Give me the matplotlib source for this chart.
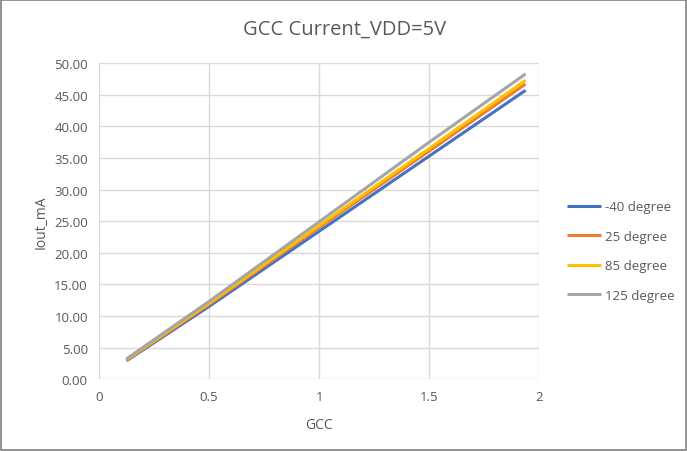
import matplotlib.pyplot as plt
from matplotlib.patches import Rectangle

plt.rcParams['font.family'] = ['Open Sans', 'DejaVu Sans']

gcc = [0.125, 0.5, 1.0, 1.5, 1.9375]
i_m40 = [2.9, 11.5, 23.4, 35.3, 45.7]
i_25 = [3.0, 11.8, 24.0, 36.1, 46.7]
i_85 = [3.1, 12.0, 24.3, 36.5, 47.3]
i_125 = [3.2, 12.3, 24.9, 37.5, 48.3]

series = [
    ("-40 degree", i_m40, "#4472C4"),
    ("25 degree", i_25, "#ED7D31"),
    ("85 degree", i_85, "#FFC000"),
    ("125 degree", i_125, "#A5A5A5"),
]

txt = "#595959"
fig = plt.figure(figsize=(6.87, 4.52), dpi=100)
ax = fig.add_axes([0.144, 0.159, 0.641, 0.699])

for name, vals, col in series:
    ax.plot(gcc, vals, color=col, lw=2.2, label=name, solid_capstyle="butt")

ax.set_xlim(0, 2)
ax.set_ylim(0, 50)
ax.set_xticks([0, 0.5, 1, 1.5, 2])
ax.set_xticklabels(["0", "0.5", "1", "1.5", "2"])
ax.set_yticks(range(0, 51, 5))
ax.set_yticklabels([f"{v:.2f}" for v in range(0, 51, 5)])
ax.grid(True, color="#d9d9d9", lw=1)
ax.set_axisbelow(True)
for s in ax.spines.values():
    s.set_visible(False)
ax.tick_params(length=0, colors=txt, labelsize=9.5, pad=8)

fig.text(0.502, 0.935, "GCC Current_VDD=5V", color=txt, fontsize=14.5,
         ha="center", va="center")
ax.set_xlabel("GCC", color=txt, fontsize=10, labelpad=10)
ax.set_ylabel("Iout_mA", color=txt, fontsize=10, labelpad=4)

leg = ax.legend(loc="center left", bbox_to_anchor=(1.035, 0.405), frameon=False,
                fontsize=9.5, handlelength=2.6, labelspacing=1.25, handletextpad=0.3)
for t in leg.get_texts():
    t.set_color(txt)

fig.patches.append(Rectangle((0.002, 0.002), 0.996, 0.996, transform=fig.transFigure,
                             fill=False, edgecolor="#808080", lw=1.2))

fig.savefig("out.png", dpi=100)
